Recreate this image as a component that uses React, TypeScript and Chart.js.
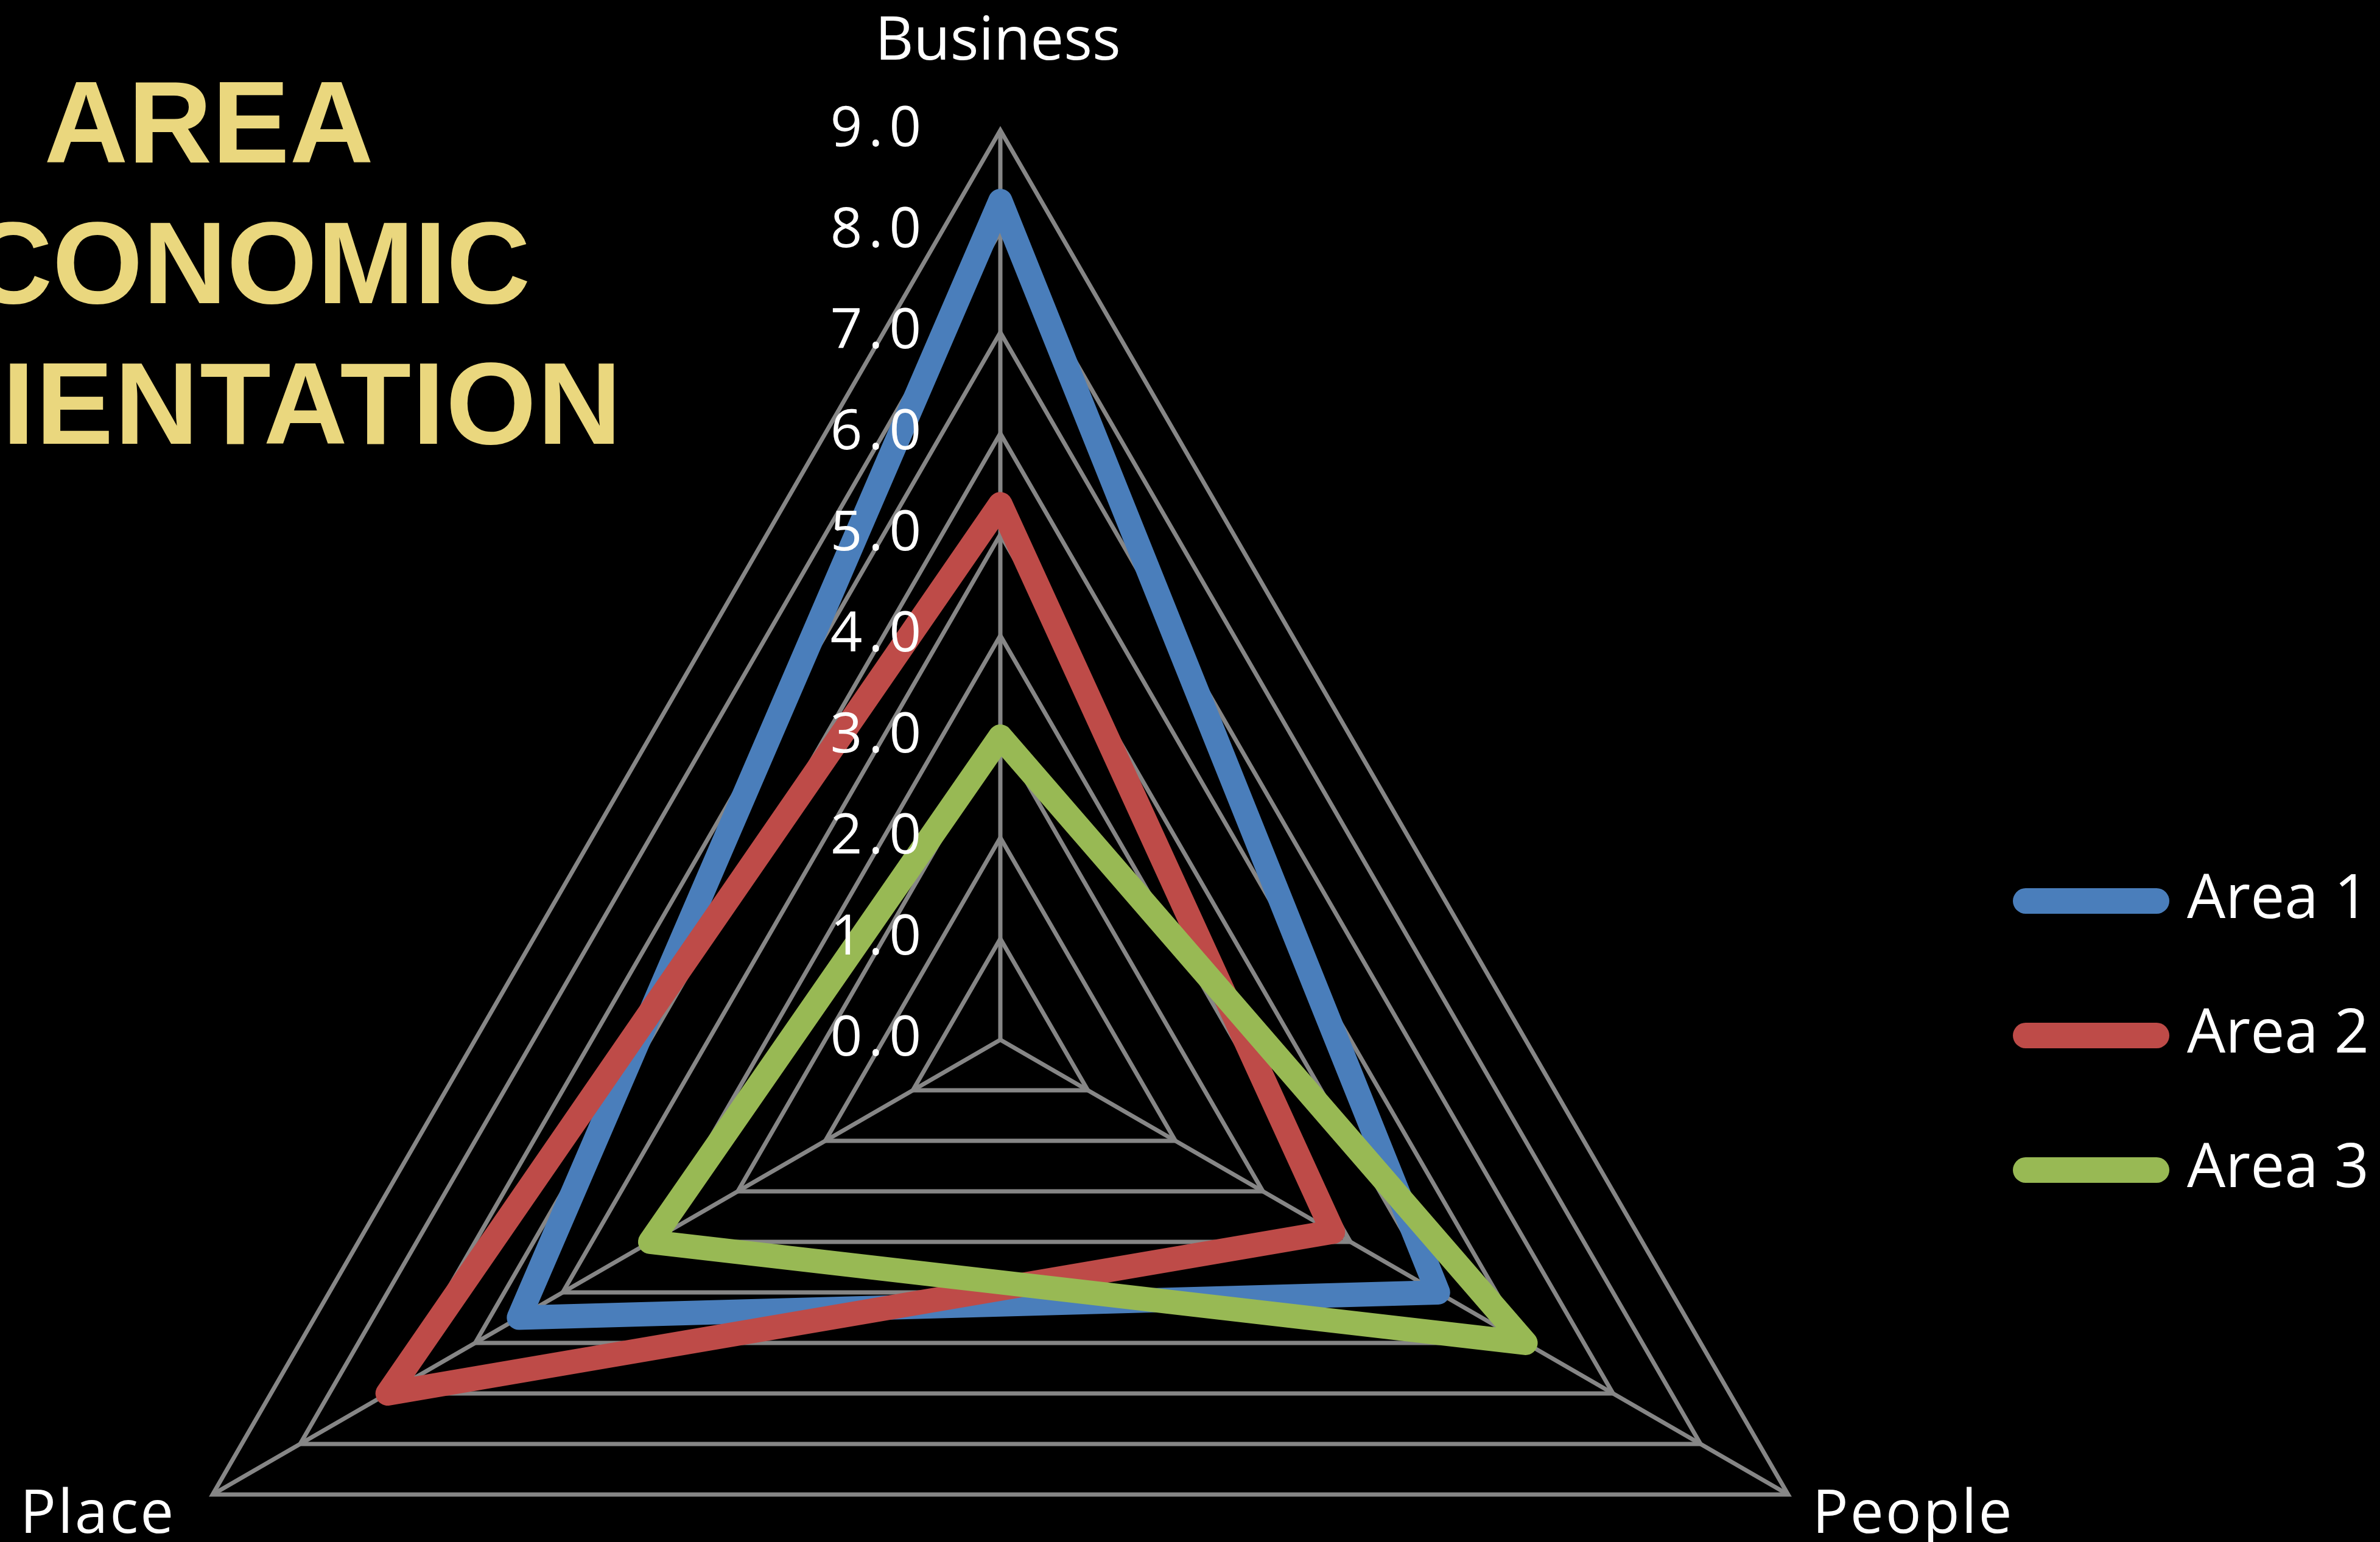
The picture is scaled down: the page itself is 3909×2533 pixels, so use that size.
import React, { useEffect, useRef } from 'react';
import { Chart, registerables } from 'chart.js';

Chart.register(...registerables);

// ---- data ----
const categories = ['Business', 'People', 'Place'];
const seriesNames = ['Area 1', 'Area 2', 'Area 3'];
const area1 = [8.3, 5.0, 5.5];
const area2 = [5.3, 3.8, 7.0];
const area3 = [3.0, 6.0, 4.0];
const tickValues = [0, 1, 2, 3, 4, 5, 6, 7, 8, 9];
const titleLines = ['AREA', 'ECONOMIC', 'ORIENTATION'];

// ---- styles ----
const W = 3909;
const H = 2533;
const FONT = '"Open Sans", "DejaVu Sans", sans-serif';
const COLORS = ['#4A7EBB', '#BE4B48', '#98B954'];
const GRID = '#868686';
const LINE_W = 40;
const TITLE_CENTERS = [343, 346, 368];
const TITLE_SPACING = ['0px', '0px', '2px'];

const textPlugin = {
  id: 'refText',
  afterDatasetsDraw(chart: any) {
    const scale = chart.scales.r;
    const ctx = chart.ctx as any;
    ctx.save();

    // value axis tick labels (left of vertical axis)
    ctx.fillStyle = '#FFFFFF';
    ctx.font = `92px ${FONT}`;
    ctx.textAlign = 'right';
    ctx.textBaseline = 'middle';
    ctx.letterSpacing = '10px';
    tickValues.forEach((v) => {
      const d = scale.getDistanceFromCenterForValue(v);
      ctx.fillText(v.toFixed(1), scale.xCenter - 120, scale.yCenter - d);
    });
    ctx.letterSpacing = '0px';

    // category labels
    ctx.font = `98px ${FONT}`;
    ctx.textBaseline = 'alphabetic';
    const R = scale.drawingArea;
    categories.forEach((label, i) => {
      const p = scale.getPointPosition(i, R);
      const s = Math.sin(scale.getIndexAngle(i));
      if (Math.abs(s) < 0.01) {
        ctx.textAlign = 'center';
        ctx.fillText(label, p.x - 4, p.y - 116);
      } else if (s > 0) {
        ctx.textAlign = 'left';
        ctx.letterSpacing = '3px';
        ctx.fillText(label, p.x + 40, p.y + 63);
        ctx.letterSpacing = '0px';
      } else {
        ctx.textAlign = 'right';
        ctx.letterSpacing = '3px';
        ctx.fillText(label, p.x - 61, p.y + 63);
        ctx.letterSpacing = '0px';
      }
    });

    // title (left part runs off the canvas as in the reference)
    ctx.fillStyle = '#EAD77E';
    ctx.font = 'bold 191px "Liberation Sans", Arial, sans-serif';
    ctx.textAlign = 'center';
    titleLines.forEach((t, i) => {
      ctx.letterSpacing = TITLE_SPACING[i];
      ctx.fillText(t, TITLE_CENTERS[i], 267 + i * 231);
    });
    ctx.letterSpacing = '0px';

    ctx.restore();
  },
};

export default function App() {
  const canvasRef = useRef<HTMLCanvasElement | null>(null);

  useEffect(() => {
    document.body.style.margin = '0';
    document.body.style.background = '#000';
    const canvas = canvasRef.current;
    if (!canvas) return;

    const seriesData = [area1, area2, area3];
    const datasets = seriesData.map((d, i) => ({
      label: seriesNames[i],
      data: d,
      borderColor: COLORS[i],
      backgroundColor: COLORS[i],
      borderWidth: LINE_W,
      borderJoinStyle: 'round' as const,
      borderCapStyle: 'round' as const,
      pointRadius: 0,
      pointHoverRadius: 0,
      pointBorderWidth: 0,
      fill: false,
      clip: false as const,
      order: 3 - i,
    }));

    const chart = new Chart(canvas, {
      type: 'radar',
      data: { labels: categories, datasets },
      plugins: [textPlugin],
      options: {
        responsive: false,
        animation: false,
        devicePixelRatio: 1,
        events: [],
        layout: { padding: { top: 869, right: 8, left: 0, bottom: 0 } },
        elements: { line: { tension: 0 } },
        scales: {
          r: {
            min: 0,
            max: 9,
            beginAtZero: true,
            ticks: { stepSize: 1, display: false },
            grid: { color: GRID, lineWidth: 7 },
            angleLines: { color: GRID, lineWidth: 7 },
            pointLabels: { display: false },
            afterFit: (s: any) => {
              s.xCenter = 1643;
              s.yCenter = 1708;
              s.drawingArea = 1494;
            },
          },
        },
        plugins: {
          tooltip: { enabled: false },
          title: { display: false },
          legend: {
            display: true,
            position: 'right',
            align: 'center',
            labels: {
              usePointStyle: true,
              pointStyle: 'line',
              pointStyleWidth: 215,
              color: '#FFFFFF',
              padding: 121,
              font: { family: FONT, size: 100 },
              generateLabels: (c: any) =>
                c.data.datasets.map((ds: any, i: number) => ({
                  text: ds.label,
                  fillStyle: ds.borderColor,
                  strokeStyle: ds.borderColor,
                  lineWidth: LINE_W + 2,
                  lineCap: 'round',
                  lineJoin: 'round',
                  pointStyle: 'line',
                  fontColor: '#FFFFFF',
                  hidden: false,
                  datasetIndex: i,
                })),
            },
          },
        },
      } as any,
    });

    return () => chart.destroy();
  }, []);

  return (
    <div style={{ position: 'absolute', left: 0, top: 0, width: W, height: H, background: '#000', overflow: 'hidden' }}>
      <canvas ref={canvasRef} width={W} height={H} style={{ display: 'block', width: W, height: H }} />
    </div>
  );
}
